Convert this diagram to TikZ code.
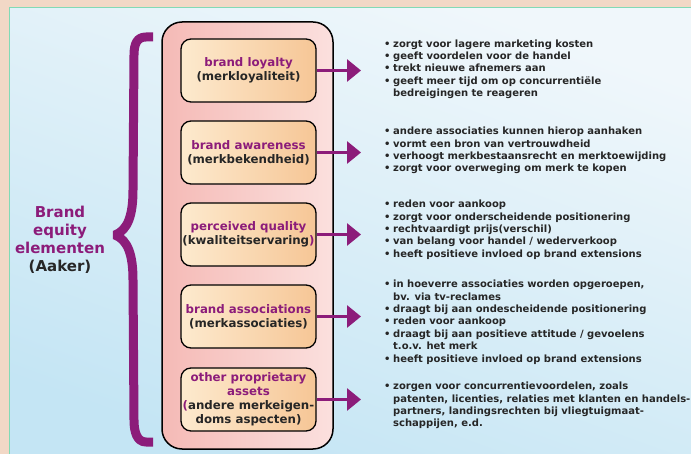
\documentclass[tikz,border=0pt]{standalone}
\usepackage{fontspec}
\setmainfont{DejaVu Sans}
\usetikzlibrary{arrows.meta}
\definecolor{purp}{RGB}{140,28,122}
\definecolor{dark}{RGB}{38,38,38}
\definecolor{peach}{RGB}{242,216,198}
\definecolor{teal}{RGB}{130,218,182}
\definecolor{skyA}{RGB}{240,247,251}
\definecolor{skyB}{RGB}{196,229,244}
\definecolor{pinkA}{RGB}{245,186,182}
\definecolor{pinkB}{RGB}{251,224,222}
\definecolor{orA}{RGB}{253,234,206}
\definecolor{orB}{RGB}{246,198,150}
\newcommand\pl[1]{\textcolor{purp}{#1}}
\newcommand\bitem{\textbullet&}
\tikzset{
  elbox/.style={draw=black, line width=1.3pt, rounded corners=10pt,
    left color=orA, right color=orB, minimum width=135pt, minimum height=63pt,
    align=center, font=\fontsize{11.8}{14}\selectfont\bfseries, text=dark, inner sep=1pt},
  arr/.style={draw=purp, line width=3pt, -{Triangle[length=14pt,width=22pt]}},
  lst/.style={anchor=north west, inner sep=0pt, text=dark,
    font=\fontsize{10}{12.4}\selectfont\bfseries}
}
\begin{document}
\begin{tikzpicture}[x=1pt,y=-1pt]
\useasboundingbox (0,0) rectangle (691,454);
\fill[peach] (0,0) rectangle (691,454);
\shade[top color=skyA, bottom color=skyB, shading angle=-20] (9,8) rectangle (691,454);
\draw[teal, line width=1pt] (9,454) -- (9,8) -- (691,8);

% brace
\draw[purp, line width=9pt, line join=bevel]
  (153,37) -- (146,37) .. controls (137,37) and (134,44) .. (134,55)
  -- (133,190) .. controls (133,215) and (128,230) .. (115,235)
  .. controls (128,240) and (133,255) .. (133,280)
  -- (134,420) .. controls (134,432) and (137,442) .. (146,442) -- (153,442);

\node[text=purp, align=center, font=\fontsize{15}{18}\selectfont\bfseries] (title) at (60,240)
  {Brand\\equity\\elementen\\\textcolor{dark}{(Aaker)}};

% outer box
\node[draw=black, line width=1.5pt, rounded corners=20pt, left color=pinkA, right color=pinkB,
  minimum width=171pt, minimum height=427pt] (outer) at (247.5,235.5) {};

\node[elbox] (b1) at (248.5,70.5) {\pl{brand loyalty}\\(merkloyaliteit)};
\node[elbox] (b2) at (248.5,152.5) {\pl{brand awareness}\\(merkbekendheid)};
\node[elbox] (b3) at (248.5,234.5) {\pl{perceived quality}\\(kwaliteitservaring\pl{)}};
\node[elbox] (b4) at (248.5,316.5) {\pl{brand associations}\\(merkassociaties)};
\node[elbox] (b5) at (248.5,399.5) {\pl{other proprietary}\\\pl{assets}\\\pl{(}andere merkeigen-\\doms aspecten)};

\coordinate (t1) at (361,70.5);
\coordinate (t2) at (361,152.5);
\coordinate (t3) at (361,234.5);
\coordinate (t4) at (361,316.5);
\coordinate (t5) at (361,399.5);
\foreach \i in {1,...,5} \draw[arr] (b\i.east) -- (t\i);

\node[lst] (l1) at (384,38.3) {\begin{tabular}{@{}p{9pt}@{}l@{}}
\bitem zorgt voor lagere marketing kosten\\
\bitem geeft voordelen voor de handel\\
\bitem trekt nieuwe afnemers aan\\
\bitem geeft meer tijd om op concurrentiële\\
& bedreigingen te reageren
\end{tabular}};
\node[lst] (l2) at (384,125.8) {\begin{tabular}{@{}p{9pt}@{}l@{}}
\bitem andere associaties kunnen hierop aanhaken\\
\bitem vormt een bron van vertrouwdheid\\
\bitem verhoogt merkbestaansrecht en merktoewijding\\
\bitem zorgt voor overweging om merk te kopen
\end{tabular}};
\node[lst] (l3) at (384,198.8) {\begin{tabular}{@{}p{9pt}@{}l@{}}
\bitem reden voor aankoop\\
\bitem zorgt voor onderscheidende positionering\\
\bitem rechtvaardigt prijs(verschil)\\
\bitem van belang voor handel / wederverkoop\\
\bitem heeft positieve invloed op brand extensions
\end{tabular}};
\node[lst] (l4) at (384,278.8) {\begin{tabular}{@{}p{9pt}@{}l@{}}
\bitem in hoeverre associaties worden opgeroepen,\\
& bv. via tv-reclames\\
\bitem draagt bij aan ondescheidende positionering\\
\bitem reden voor aankoop\\
\bitem draagt bij aan positieve attitude / gevoelens\\
& t.o.v. het merk\\
\bitem heeft positieve invloed op brand extensions
\end{tabular}};
\node[lst] (l5) at (384,380.8) {\begin{tabular}{@{}p{9pt}@{}l@{}}
\bitem zorgen voor concurrentievoordelen, zoals\\
& patenten, licenties, relaties met klanten en handels-\\
& partners, landingsrechten bij vliegtuigmaat-\\
& schappijen, e.d.
\end{tabular}};
\end{tikzpicture}
\end{document}
